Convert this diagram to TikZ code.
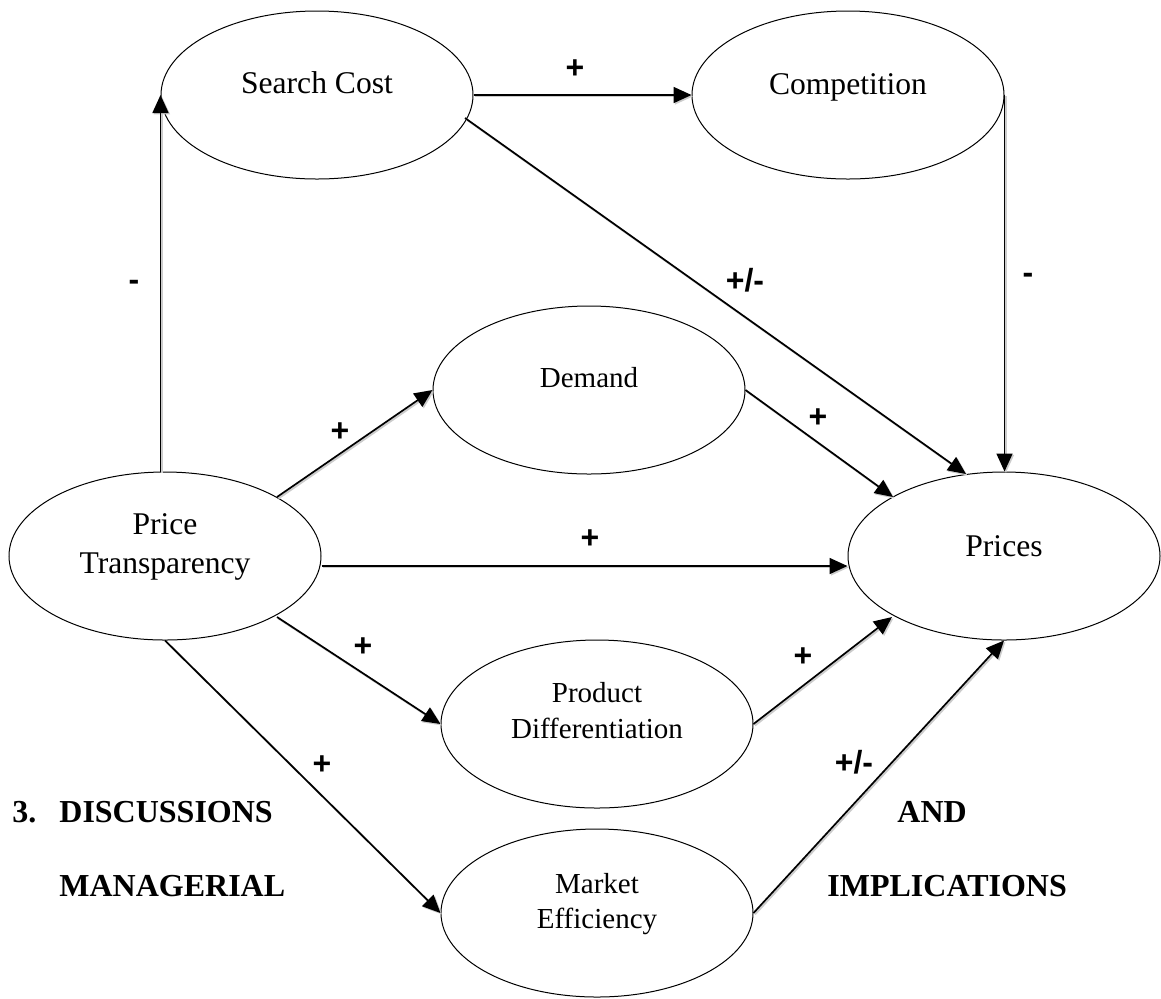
\documentclass[tikz,border=0pt]{standalone}
\usepackage{fontspec}
\setmainfont{Liberation Serif}
\newfontfamily\lblfont{Liberation Sans}
\usetikzlibrary{arrows.meta,calc,shapes.geometric}
\begin{document}
\begin{tikzpicture}[x=0.5pt,y=-0.5pt,
  bubble/.style={draw, line width=0.5pt, ellipse, minimum width=156pt, minimum height=84pt, inner sep=0pt},
  bigtxt/.style={font=\fontsize{15.8}{19}\selectfont, anchor=base, inner sep=0pt},
  smalltxt/.style={font=\fontsize{14.5}{17}\selectfont, anchor=base, inner sep=0pt},
  sign/.style={font=\lblfont\bfseries\fontsize{16}{19}\selectfont, inner sep=0pt, text height=0.72em, text depth=0.12em},
  head/.style={font=\bfseries\fontsize{16}{19}\selectfont, anchor=base west, inner sep=0pt},
  link/.style={line width=0.85pt, -{Triangle[length=9pt,width=8pt]},
    preaction={draw=black!20, line width=1pt, transform canvas={shift={(0.7pt,-0.7pt)}}}}
]
\useasboundingbox (0,0) rectangle (1161,998);

% ellipses
\node[bubble] (sc)   at (317,95)   {};
\node[bubble] (comp) at (848,95)   {};
\node[bubble] (dem)  at (589,390)  {};
\node[bubble] (pt)   at (165,556)  {};
\node[bubble] (pr)   at (1004,556) {};
\node[bubble] (prod) at (597,724)  {};
\node[bubble] (mkt)  at (597,913)  {};

% ellipse texts
\node[bigtxt] (sct) at ($(sc.center)+(0,-2)$) {Search Cost};
\node[bigtxt] (compt) at ($(comp.center)+(0,-1)$) {Competition};
\node[smalltxt] (demt) at ($(dem.center)+(0,-3)$) {Demand};
\node[bigtxt] (prt) at (pr.center) {Prices};
\node[bigtxt] (ptt1) at ($(pt.center)+(0,-22)$) {Price};
\node[bigtxt] (ptt2) at ($(pt.center)+(0,17)$) {Transparency};
\node[smalltxt] (prodt1) at ($(prod.center)+(0,-22)$) {Product};
\node[smalltxt] (prodt2) at ($(prod.center)+(0,14)$) {Differentiation};
\node[smalltxt] (mktt1) at ($(mkt.center)+(0,-20)$) {Market};
\node[smalltxt] (mktt2) at ($(mkt.center)+(0,15)$) {Efficiency};

% connectors
\draw[link] (pt.north -| sc.west) -- (sc.west);
\draw[link] (sc.east) -- (comp.west);
\draw[link] ($(sc.center)+(148,23)$) -- ($(pr.center)+(-38,-82)$);
\draw[link] (comp.east) -- (comp.east |- pr.north);
\draw[link] ($(pt.center)+(112,-59)$) -- (dem.west);
\draw[link] (dem.east) -- ($(pr.center)+(-111,-59)$);
\draw[link] ($(pt.east)+(0,10)$) -- ($(pr.west)+(0,10)$);
\draw[link] ($(pt.center)+(112,61)$) -- (prod.west);
\draw[link] (pt.south) -- (mkt.west);
\draw[link] (prod.east) -- ($(pr.center)+(-112,61)$);
\draw[link] (mkt.east) -- (pr.south);

% signs
\node[sign] (s1)  at (575,72)  {+};
\node[sign] (s2)  at (134,284) {-};
\node[sign] (s3)  at (745,285) {+/-};
\node[sign] (s4)  at (1028,277) {-};
\node[sign] (s5)  at (340,435) {+};
\node[sign] (s6)  at (818,421) {+};
\node[sign] (s7)  at (590,542) {+};
\node[sign] (s8)  at (363,650) {+};
\node[sign] (s9)  at (803,660) {+};
\node[sign] (s10) at (322,768) {+};
\node[sign] (s11) at (854,767) {+/-};

% heading text
\node[head] (h1) at (12,822) {3.};
\node[head] (h2) at (59,822) {DISCUSSIONS};
\node[head] (h3) at (59,896) {MANAGERIAL};
\node[head] (h4) at (897,822) {AND};
\node[head] (h5) at (827,896) {IMPLICATIONS};
\end{tikzpicture}
\end{document}
